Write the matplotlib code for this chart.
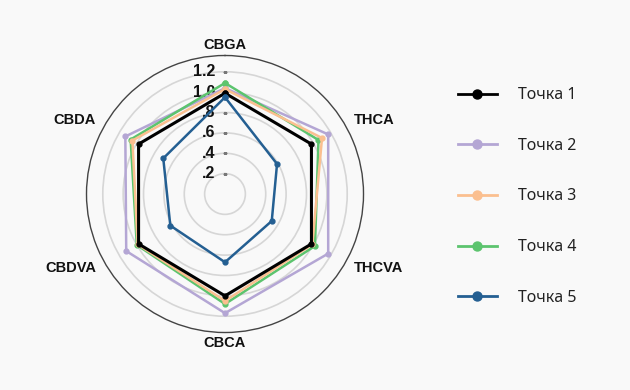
import numpy as np
import matplotlib
matplotlib.use('Agg')
import matplotlib.pyplot as plt
from matplotlib.transforms import offset_copy

# axes of the radar, clockwise from the top
categories = ['CBGA', 'THCA', 'THCVA', 'CBCA', 'CBDVA', 'CBDA']
series_names = ['Точка 1', 'Точка 2', 'Точка 3', 'Точка 4', 'Точка 5']
tochka1 = [0.99, 0.98, 0.98, 1.00, 0.98, 0.98]
tochka2 = [1.04, 1.17, 1.17, 1.17, 1.12, 1.13]
tochka3 = [1.03, 1.10, 0.99, 1.05, 0.99, 1.05]
tochka4 = [1.09, 1.06, 1.02, 1.08, 1.00, 1.07]
tochka5 = [0.95, 0.59, 0.53, 0.67, 0.62, 0.70]
r_ticks = [0.2, 0.4, 0.6, 0.8, 1.0, 1.2]
r_tick_labels = ['.2', '.4', '.6', '.8', '1.0', '1.2']

colors = ['#000000', '#b4a6d4', '#fbbf8f', '#5cc46e', '#245f92']
widths = [2.2, 1.8, 1.8, 1.8, 1.8]
zorders = [6, 3, 5, 4, 7]
bg = '#f9f9f9'

fig = plt.figure(figsize=(6.3, 3.9), dpi=100, facecolor=bg)
ax = fig.add_axes([0.1373, 0.1474, 0.4397, 0.7103], projection='polar')
ax.set_facecolor(bg)
ax.set_theta_zero_location('N')
ax.set_theta_direction(-1)

angles = np.linspace(0, 2 * np.pi, len(categories), endpoint=False)
closed = np.append(angles, angles[0])

lines = []
for name, vals, c, w, z in zip(series_names,
                               [tochka1, tochka2, tochka3, tochka4, tochka5],
                               colors, widths, zorders):
    v = np.append(vals, vals[0])
    ln, = ax.plot(closed, v, color=c, lw=w, marker='o', ms=3.5,
                  zorder=z, label=name, clip_on=False)
    lines.append(ln)

ax.set_ylim(0, 1.36)
ax.set_yticks(r_ticks)
ax.set_yticklabels([])
ax.yaxis.grid(True, color='#d6d6d6', lw=1.2)
ax.xaxis.grid(False)
ax.spines['polar'].set_color('#444444')
ax.spines['polar'].set_linewidth(1.0)

# radial labels left of the top spoke, with small dashes
lab_tr = offset_copy(ax.transData, fig=fig, x=-10, y=0, units='dots')
for r, lbl in zip(r_ticks, r_tick_labels):
    ax.text(0, r, lbl, transform=lab_tr, ha='right', va='center',
            fontsize=11.5, fontweight='bold', family='Liberation Sans',
            color='#111111', zorder=2)
ax.plot([0] * len(r_ticks), r_ticks, ls='none', marker='_', ms=3,
        color='#777777', zorder=2)

# category labels
ax.set_xticks(angles)
ax.set_xticklabels([])
ax.tick_params(axis='x', direction='out', length=3, color='#666666')
for a, lbl in zip(angles, categories):
    s = np.sin(a)
    ha = 'center' if abs(s) < 0.1 else ('left' if s > 0 else 'right')
    ax.text(a, 1.46, lbl, ha=ha, va='center', fontsize=10.5,
            fontweight='bold', family='Liberation Sans', color='#111111',
            clip_on=False)

leg = fig.legend(handles=lines, loc='upper left',
                 bbox_to_anchor=(0.714, 0.797), frameon=False,
                 prop={'family': 'Noto Sans', 'size': 11.5},
                 labelspacing=2.17, handlelength=2.45, handletextpad=1.3,
                 markerscale=1.85, borderpad=0)
for t in leg.get_texts():
    t.set_color('#222222')
for h in leg.legend_handles:
    h.set_linewidth(2.0)

fig.savefig('out.png', dpi=100, facecolor=bg)
